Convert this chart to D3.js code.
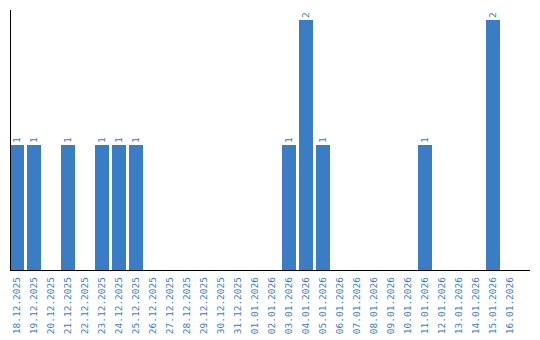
<!DOCTYPE html>
<html><head><meta charset="utf-8">
<script src="https://cdn.jsdelivr.net/npm/d3@7"></script>
<style>body{margin:0;background:#fff}</style>
</head><body>
<script>
const categories = ["18.12.2025","19.12.2025","20.12.2025","21.12.2025","22.12.2025","23.12.2025","24.12.2025","25.12.2025","26.12.2025","27.12.2025","28.12.2025","29.12.2025","30.12.2025","31.12.2025","01.01.2026","02.01.2026","03.01.2026","04.01.2026","05.01.2026","06.01.2026","07.01.2026","08.01.2026","09.01.2026","10.01.2026","11.01.2026","12.01.2026","13.01.2026","14.01.2026","15.01.2026","16.01.2026"];
const values = [1,1,0,1,0,1,1,1,0,0,0,0,0,0,0,0,1,2,1,0,0,0,0,0,1,0,0,0,2,0];

const W = 540, H = 340;
const color = "#3b7dc4";
const svg = d3.select("body").append("svg").attr("width", W).attr("height", H);

const x = d3.scaleBand().domain(categories).range([10, 517]).paddingInner(3/17).paddingOuter(0).align(0);
const y = d3.scaleLinear().domain([0, 2]).range([270, 20]);

const data = categories.map((c, i) => ({c, v: values[i]}));

svg.selectAll("rect.bar").data(data.filter(d => d.v > 0)).enter().append("rect")
  .attr("class", "bar")
  .attr("x", d => x(d.c)).attr("width", x.bandwidth())
  .attr("y", d => y(d.v)).attr("height", d => y(0) - y(d.v))
  .attr("fill", color);

svg.selectAll("text.val").data(data.filter(d => d.v > 0)).enter().append("text")
  .attr("class", "val")
  .attr("transform", d => `translate(${x(d.c) + x.bandwidth()/2},${y(d.v) - 2}) rotate(-90)`)
  .attr("dy", "0.35em")
  .attr("text-anchor", "start")
  .attr("font-family", "DejaVu Sans Mono")
  .attr("font-size", 9.5)
  .attr("fill", color)
  .text(d => d.v);

// axes
svg.append("line").attr("x1", 10.5).attr("x2", 10.5).attr("y1", 10).attr("y2", 270).attr("stroke", "#000");
svg.append("line").attr("x1", 10).attr("x2", 530).attr("y1", 270.5).attr("y2", 270.5).attr("stroke", "#000");

svg.selectAll("text.cat").data(categories).enter().append("text")
  .attr("class", "cat")
  .attr("transform", d => `translate(${x(d) + x.bandwidth()/2},277) rotate(-90)`)
  .attr("dy", "0.35em")
  .attr("text-anchor", "end")
  .attr("font-family", "DejaVu Sans Mono")
  .attr("font-size", 9.5)
  .attr("fill", color)
  .text(d => d);
</script>
</body></html>
